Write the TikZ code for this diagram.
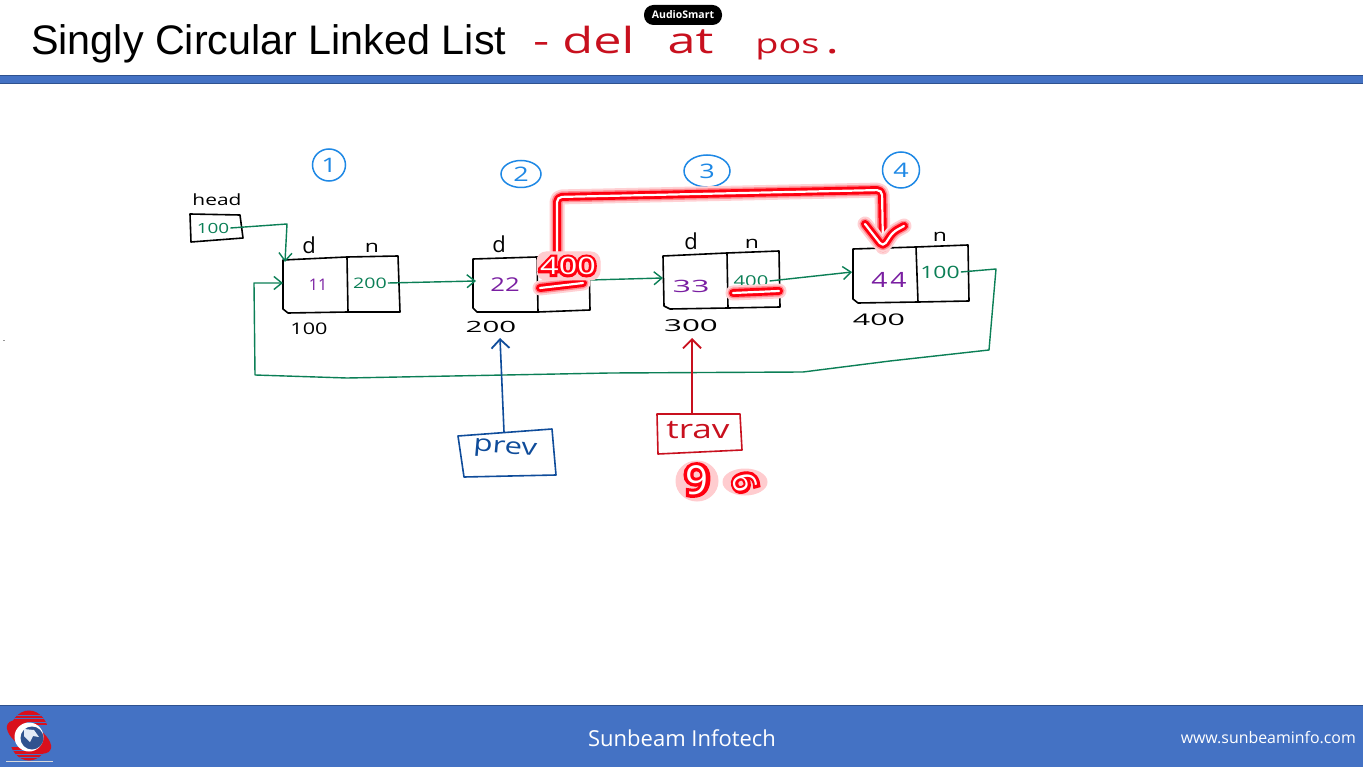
\documentclass[tikz,border=0pt]{standalone}
\usepackage{fontspec}
\setmainfont{Liberation Sans}
\newfontfamily\handf{Open Sans}
\newfontfamily\handw[FakeStretch=1.35]{Open Sans}
\newfontfamily\handx[FakeStretch=1.9]{Open Sans}
\newfontfamily\subf[FakeStretch=1.4]{Open Sans}
\newfontfamily\foot{Open Sans}
\newfontfamily\glowf[FakeStretch=1.35,FakeBold=22]{Open Sans}
\newfontfamily\glowg[FakeStretch=1.1,FakeBold=16]{Open Sans}
\usetikzlibrary{arrows.meta,shapes.geometric}
\definecolor{barblue}{HTML}{4472C4}
\definecolor{baredge}{HTML}{2F528F}
\definecolor{inkgreen}{HTML}{0B7F56}
\definecolor{inkpurple}{HTML}{7A1FA2}
\definecolor{inkblue}{HTML}{1E88E5}
\definecolor{inkdark}{HTML}{0F4C9A}
\definecolor{inkred}{HTML}{C8101E}
\definecolor{glowred}{HTML}{FF0010}
\definecolor{logored}{HTML}{D9101C}
\tikzset{
  hand/.style={font=\handf\fontsize{#1}{#1}\selectfont,inner sep=1pt},
  wide/.style={font=\handw\fontsize{#1}{#1}\selectfont,inner sep=1pt},
  wider/.style={font=\handx\fontsize{#1}{#1}\selectfont,inner sep=1pt},
  cell/.style={draw=black,line width=1.6pt,line join=round},
  wire/.style={draw=inkgreen,line width=1.4pt,line join=round,-{Straight Barb[length=8pt,width=13pt,line width=1.4pt]}},
  badge/.style={ellipse,draw=inkblue,line width=1.5pt,inner sep=0pt,text=inkblue,wide=20},
  darkbox/.style={draw=inkdark,line width=1.6pt,line join=round},
  redbox/.style={draw=inkred,line width=1.6pt,line join=round},
  glowa/.style={draw=glowred!18,line width=15pt,line cap=round,line join=round,rounded corners=5pt},
  glowb/.style={draw=glowred!45,line width=11pt,line cap=round,line join=round,rounded corners=5pt},
  glowc/.style={draw=glowred,line width=8pt,line cap=round,line join=round,rounded corners=5pt},
  glowd/.style={draw=white,line width=2.2pt,line cap=round,line join=round,rounded corners=5pt},
  halo/.style={fill=glowred!20,draw=glowred!20,line width=1pt},
}
\newcommand{\glowpath}[1]{\path[glowa]#1;\path[glowb]#1;\path[glowc]#1;\path[glowd]#1;}
\begin{document}
\begin{tikzpicture}[x=1pt,y=-1pt]
\useasboundingbox (0,0) rectangle (1363,767);
\fill[white] (0,0) rectangle (1363,767);
% header
\fill[barblue] (0,75) rectangle (1363,84);
\draw[baredge,line width=1pt] (0,75.5) -- (1363,75.5);
\draw[baredge,line width=1pt] (0,83.5) -- (1363,83.5);
\node[anchor=west,inner sep=0pt,font=\fontsize{41.3}{41.3}\selectfont] (title) at (31,44) {Singly Circular Linked List};
\node[anchor=west,inner sep=0pt,text=inkred,font=\subf\fontsize{36}{36}\selectfont] (sub) at (533,43) {- del \hspace{20pt}at \hspace{29pt}{\fontsize{27}{27}\selectfont pos} \hspace{-7pt}.};
\node[fill=black,text=white,rounded corners=9.5pt,minimum width=78pt,minimum height=20pt,inner sep=0pt,font=\foot\bfseries\fontsize{10.5}{10.5}\selectfont] (audio) at (683,15) {AudioSmart};
% footer
\fill[barblue] (0,705) rectangle (1363,767);
\draw[baredge,line width=1pt] (0,705.5) -- (1363,705.5);
\node[text=white,inner sep=0pt,font=\foot\fontsize{22}{22}\selectfont] (sb) at (682,738) {Sunbeam Infotech};
\node[text=white,anchor=east,inner sep=0pt,font=\foot\fontsize{15.9}{15.9}\selectfont] (web) at (1356,738) {www.sunbeaminfo.com};
% logo
\begin{scope}
\clip (29,735.5) ellipse (20pt and 25pt);
\fill[logored] (5,710) rectangle (53,725);
\fill[logored] (5,747) rectangle (53,762);
\foreach \yy in {714.5,718,721.5,750,753.5,757} \fill[barblue] (0,\yy) rectangle (60,\yy+1.3);
\end{scope}
\fill[logored,rotate around={-32:(29,737)}] (29,737) ellipse (25pt and 12pt);
\fill[white] (29,737) circle (14.5pt);
\fill[baredge] (32,738) circle (11.5pt);
\fill[white!85!barblue] (24,729) -- (34,730) -- (39,737) -- (33,736) -- (30,742) -- (24,736) -- cycle;
\draw[white!70!gray,line width=1pt] (6,761.5) -- (53,761.5);
\node[inner sep=0pt,font=\fontsize{9}{9}\selectfont] (dot) at (4,341) {.};
% head
\draw[cell] (190,214) -- (240,215) -- (243,238) -- (191,242) -- cycle;
\node[wide=15.5,text=black] (headlbl) at (217,200) {head};
\node[wide=14,text=inkgreen] (headval) at (213,228) {100};
% cells
\draw[cell] (283,260) -- (347,257) -- (398,256) -- (400,312) -- (348,312) -- (288,313) -- (283,309) -- cycle;
\draw[cell] (347,257) -- (348,312);
\draw[cell] (473,259) -- (537,257) -- (589,256) -- (590,310) -- (538,312) -- (477,312) -- (473,308) -- cycle;
\draw[cell] (537,257) -- (538,312);
\draw[cell] (663,256) -- (727,253) -- (779,251) -- (780,307) -- (728,308) -- (670,309) -- (664,306) -- cycle;
\draw[cell] (727,253) -- (728,308);
\draw[cell] (853,249) -- (916,247) -- (968,245) -- (969,301) -- (918,302) -- (858,303) -- (853,299) -- cycle;
\draw[cell] (916,247) -- (918,302);
% field labels
\node[hand=22] (d1) at (309,245) {d};
\node[wide=17] (n1) at (372,248) {n};
\node[hand=22] (d2) at (499,244) {d};
\node[hand=22] (d3) at (691,241) {d};
\node[wide=17] (n3) at (752,244) {n};
\node[wide=17] (n4) at (940,237) {n};
% values
\node[hand=16,text=inkpurple] (v11) at (318,285) {11};
\node[wide=14.5,text=inkgreen] (v200) at (370,283) {200};
\node[wide=19,text=inkpurple] (v22) at (505,285) {22};
\node[wider=17,text=inkpurple] (v33) at (691,286) {33};
\node[wide=15,text=inkgreen] (v400) at (751,281) {400};
\node[wide=21,text=inkpurple] (v44) at (889,280) {4\hspace{3pt}4};
\node[wide=17,text=inkgreen] (v100) at (940,272) {100};
% addresses
\node[wide=16] (a1) at (309,329) {100};
\node[wider=15.5] (a2) at (491,327) {200};
\node[wider=16.5] (a3) at (691,326) {300};
\node[wider=16] (a4) at (879,320) {400};
% badges
\node[badge,minimum width=33pt,minimum height=32pt] (b1) at (329,165) {1};
\node[badge,minimum width=40pt,minimum height=27pt] (b2) at (521,174) {2};
\node[badge,minimum width=46pt,minimum height=32pt] (b3) at (707,171) {3};
\node[badge,minimum width=37pt,minimum height=36pt] (b4) at (901,170) {4};
% anchors
\coordinate (hb) at (287,224);
\coordinate (t1) at (285,262);
\coordinate (l1) at (283,283);
\coordinate (l2) at (476,281);
\coordinate (l3) at (663,278);
\coordinate (l4) at (852,272);
\coordinate (r2) at (590,280);
\coordinate (c1) at (996,269);
\coordinate (c2) at (989,350);
\coordinate (c2b) at (890,361);
\coordinate (c3) at (803,372);
\coordinate (c3b) at (610,373);
\coordinate (c3c) at (347,378);
\coordinate (c4) at (255,375);
\coordinate (c5) at (254,283);
% green connectors
\draw[wire] (headval.east) -- (hb) -- (t1);
\draw[wire] (v200.east) -- (l2);
\draw[wire] (r2) -- (l3);
\draw[wire] (v400.east) -- (l4);
\draw[wire] (v100.east) -- (c1) -- (c2) -- (c2b) -- (c3) -- (c3b) -- (c3c) -- (c4) -- (c5) -- (l1);
% pointers
\draw[darkbox] (458,436) -- (552,429) -- (556,475) -- (464,477) -- cycle;
\node[wide=23,text=inkdark,rotate=-5] (prev) at (505,450) {prev};
\coordinate (p0) at (504,432);
\coordinate (pt) at (500,338);
\draw[darkbox,-{Straight Barb[length=9pt,width=18pt,line width=1.8pt]}] (p0) -- (pt);
\draw[redbox] (657,414) -- (740,414) -- (742,450) -- (658,454) -- cycle;
\node[wide=26,text=inkred] (trav) at (698,430) {trav};
\coordinate (q0) at (692,413);
\coordinate (qt) at (692,338);
\draw[redbox,-{Straight Barb[length=9pt,width=18pt,line width=1.8pt]}] (q0) -- (qt);
% red strokes
\coordinate (u1a) at (540,288);
\coordinate (u1b) at (583,283);
\coordinate (u2a) at (733,293);
\coordinate (u2b) at (779,291);
\glowpath{(u1a) -- (u1b)}
\glowpath{(u2a) -- (u2b)}
\coordinate (g0) at (557,252);
\coordinate (g1) at (557,197);
\coordinate (g2) at (882,190);
\coordinate (g3) at (883,247);
\coordinate (ha) at (865,224);
\coordinate (hc) at (904,226);
\coordinate (hm) at (893,232);
\glowpath{(g0) -- (g1) -- (g2) -- (g3)}
\glowpath{(ha) -- (g3) -- (hm) -- (hc)}
\fill[halo,rounded corners=9pt] (537,252) rectangle (600,280);
\node[font=\glowf\fontsize{24}{24}\selectfont,text=glowred,inner sep=1pt] (v400out) at (568,266) {400};
\node[wide=24,text=white] (v400new) at (568,266) {400};
\fill[halo] (697,481) ellipse (21pt and 20pt);
\fill[halo] (745,482) ellipse (22pt and 13pt);
\node[font=\glowg\fontsize{40}{40}\selectfont,text=glowred,inner sep=1pt] (nineout) at (697,480) {9};
\node[font=\handf\fontsize{40}{40}\selectfont,text=white,inner sep=1pt] (nine) at (697,480) {9};
\node[font=\glowg\fontsize{32}{32}\selectfont,text=glowred,inner sep=1pt,rotate=-75] (sixout) at (745,482) {6};
\node[font=\handf\fontsize{32}{32}\selectfont,text=white,inner sep=1pt,rotate=-75] (six) at (745,482) {6};
\end{tikzpicture}
\end{document}
